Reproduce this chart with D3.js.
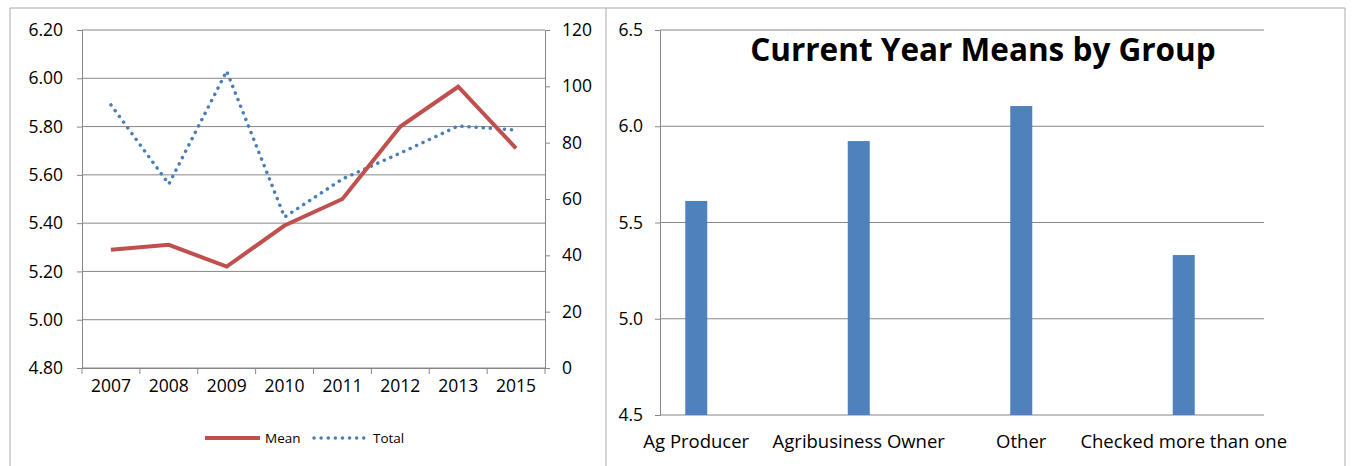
<!DOCTYPE html><html><head><meta charset="utf-8">
<script src="https://cdn.jsdelivr.net/npm/d3@7"></script>
<style>body{margin:0;background:#fff}text{font-family:"Open Sans","Liberation Sans",sans-serif;fill:#000}</style>
</head><body><svg id="c" width="1353" height="466"></svg>
<script>
const years=["2007","2008","2009","2010","2011","2012","2013","2015"];
const meanVals=[5.29,5.31,5.22,5.39,5.50,5.80,5.965,5.71];
const totalVals=[93.4,65.3,105.4,53.6,67.1,76.3,85.9,84.5];
const leftTicks=[4.8,5.0,5.2,5.4,5.6,5.8,6.0,6.2];
const rightTicks=[0,20,40,60,80,100,120];
const groups=["Ag Producer","Agribusiness Owner","Other","Checked more than one"];
const groupMeans=[5.612,5.923,6.105,5.331];
const barTicks=[4.5,5.0,5.5,6.0,6.5];

const svg=d3.select("#c");
const grid="#878787";
svg.append("line").attr("x1",10).attr("x2",1345).attr("y1",8).attr("y2",8).attr("stroke","#aaa");
svg.append("line").attr("x1",10).attr("x2",10).attr("y1",8).attr("y2",466).attr("stroke","#aaa");
svg.append("line").attr("x1",606).attr("x2",606).attr("y1",8).attr("y2",466).attr("stroke","#aaa");
svg.append("line").attr("x1",1345).attr("x2",1345).attr("y1",8).attr("y2",466).attr("stroke","#aaa");

const x=d3.scaleBand().domain(years).range([82,545]);
const yL=d3.scaleLinear().domain([4.8,6.2]).range([368,30]);
const yR=d3.scaleLinear().domain([0,120]).range([368,30]);
const gl=svg.append("g");
leftTicks.forEach(t=>gl.append("line").attr("x1",82).attr("x2",545).attr("y1",yL(t)).attr("y2",yL(t)).attr("stroke",grid));
gl.append("g").attr("transform","translate(82,0)").call(d3.axisLeft(yL).tickValues(leftTicks).tickFormat(d3.format(".2f")).tickSize(5).tickPadding(14));
gl.append("g").attr("transform","translate(545,0)").call(d3.axisRight(yR).tickValues(rightTicks).tickSize(5).tickPadding(12));
gl.append("g").attr("transform","translate(0,368)").call(d3.axisBottom(x).tickSize(0).tickPadding(12));
years.concat([null]).forEach((d,i)=>gl.append("line").attr("x1",82+i*x.step()).attr("x2",82+i*x.step()).attr("y1",368).attr("y2",374).attr("stroke",grid));
gl.selectAll(".domain").attr("stroke",grid);gl.selectAll(".tick line").attr("stroke",grid);
gl.selectAll(".tick text").style("font-size","17.5px");
const cx=d=>x(d)+x.bandwidth()/2;
gl.append("path").datum(years).attr("fill","none").attr("stroke","#4a7ebb").attr("stroke-width",3.5).attr("stroke-dasharray","0.1 7").attr("stroke-linecap","round")
 .attr("d",d3.line().x(cx).y((d,i)=>yR(totalVals[i])));
gl.append("path").datum(years).attr("fill","none").attr("stroke","#c0504d").attr("stroke-width",4)
 .attr("d",d3.line().x(cx).y((d,i)=>yL(meanVals[i])));
gl.append("line").attr("x1",205).attr("x2",260).attr("y1",438).attr("y2",438).attr("stroke","#c0504d").attr("stroke-width",4);
gl.append("text").attr("x",265).attr("y",443).text("Mean").style("font-size","13.5px");
gl.append("line").attr("x1",314).attr("x2",368).attr("y1",438).attr("y2",438).attr("stroke","#4a7ebb").attr("stroke-width",3.5).attr("stroke-dasharray","0.1 7").attr("stroke-linecap","round");
gl.append("text").attr("x",373).attr("y",443).text("Total").style("font-size","13.5px");

const xb=d3.scaleBand().domain(groups).range([615,1265]);
const yB=d3.scaleLinear().domain([4.5,6.5]).range([415,30]);
const gr=svg.append("g");
barTicks.forEach(t=>gr.append("line").attr("x1",660).attr("x2",1264).attr("y1",yB(t)).attr("y2",yB(t)).attr("stroke",grid));
gr.append("g").attr("transform","translate(660,0)").call(d3.axisLeft(yB).tickValues(barTicks).tickFormat(d3.format(".1f")).tickSize(5).tickPadding(12));
gr.selectAll(".domain").attr("stroke",grid);gr.selectAll(".tick line").attr("stroke",grid);
gr.selectAll(".tick text").style("font-size","17.5px");
gr.selectAll("rect").data(groups).join("rect").attr("x",d=>xb(d)+xb.bandwidth()/2-11).attr("width",22)
 .attr("y",(d,i)=>yB(groupMeans[i])).attr("height",(d,i)=>415-yB(groupMeans[i])).attr("fill","#4f81bd");
gr.selectAll(".gl").data(groups).join("text").attr("x",d=>xb(d)+xb.bandwidth()/2).attr("y",448).attr("text-anchor","middle").style("font-size","18.5px").text(d=>d);
gr.append("text").attr("x",983).attr("y",61).attr("text-anchor","middle").style("font-size","31.5px").style("font-weight","bold").text("Current Year Means by Group");
</script></body></html>
